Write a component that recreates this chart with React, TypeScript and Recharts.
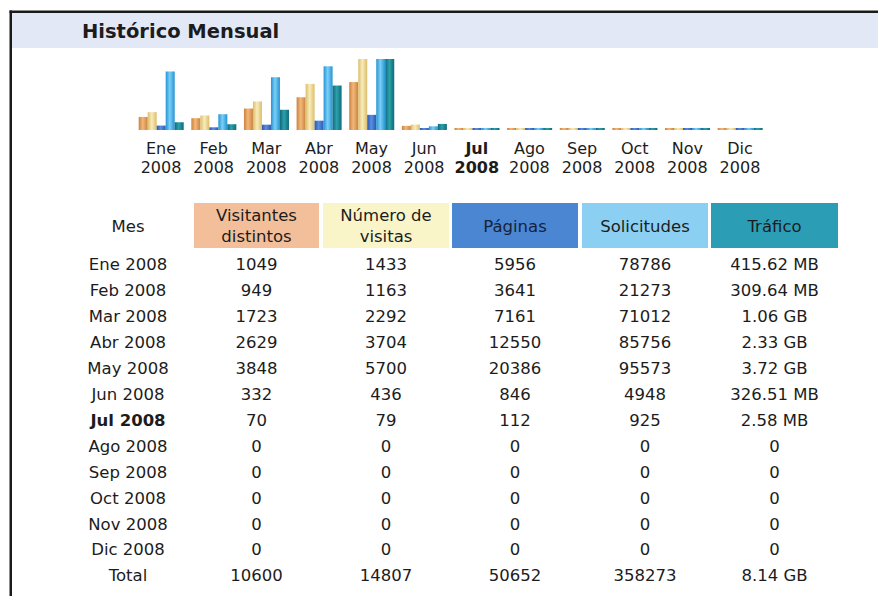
import React from 'react';
import { BarChart, Bar, XAxis, YAxis } from 'recharts';

const months = ['Ene', 'Feb', 'Mar', 'Abr', 'May', 'Jun', 'Jul', 'Ago', 'Sep', 'Oct', 'Nov', 'Dic'];
const year = '2008';
const currentMonth = 'Jul';

const visitors = [1049, 949, 1723, 2629, 3848, 332, 70, 0, 0, 0, 0, 0];
const visits = [1433, 1163, 2292, 3704, 5700, 436, 79, 0, 0, 0, 0, 0];
const pages = [5956, 3641, 7161, 12550, 20386, 846, 112, 0, 0, 0, 0, 0];
const hits = [78786, 21273, 71012, 85756, 95573, 4948, 925, 0, 0, 0, 0, 0];
// traffic in MB for the bars, and as shown in the table
const trafficMB = [415.62, 309.64, 1085.44, 2385.92, 3809.28, 326.51, 2.58, 0, 0, 0, 0, 0];
const trafficLabels = ['415.62 MB', '309.64 MB', '1.06 GB', '2.33 GB', '3.72 GB', '326.51 MB', '2.58 MB', '0', '0', '0', '0', '0'];
const totals = ['10600', '14807', '50652', '358273', '8.14 GB'];

const headers = [
  { lines: ['Visitantes', 'distintos'], fill: '#f3bf9b' },
  { lines: ['Número de', 'visitas'], fill: '#faf5c9' },
  { lines: ['Páginas'], fill: '#4b86d3' },
  { lines: ['Solicitudes'], fill: '#8bcff2' },
  { lines: ['Tráfico'], fill: '#2b9eb6' },
];

const FONT = 'Verdana, "DejaVu Sans", sans-serif';
const TEXT = '#1c1c1c';

const chartData = months.map((m, i) => ({
  month: m,
  visitors: visitors[i],
  visits: visits[i],
  pages: pages[i],
  hits: hits[i],
  traffic: trafficMB[i],
}));

const maxVisits = Math.max(...visits, ...visitors);
const maxHits = Math.max(...hits, ...pages);
const maxTraffic = Math.max(...trafficMB);

const barColors: Record<string, [string, string]> = {
  visitors: ['#cc8240', '#f2b878'],
  visits: ['#dcbd6c', '#f8ecba'],
  pages: ['#2a58b2', '#5a8ee0'],
  hits: ['#2493d4', '#7ccff5'],
  traffic: ['#116a78', '#2aa2ac'],
};

const MonthTick = (props: any) => {
  const { x, payload } = props;
  const bold = payload.value === currentMonth;
  return (
    <text
      x={x}
      textAnchor='middle'
      fontFamily={FONT}
      fontSize={16}
      fontWeight={bold ? 'bold' : 'normal'}
      fill={TEXT}
    >
      <tspan x={x} y={154}>{payload.value}</tspan>
      <tspan x={x} y={173}>{year}</tspan>
    </text>
  );
};

const colX = [128, 256.5, 386, 515, 645, 774.5];
const cellX = [194, 323, 452, 582, 711];
const cellW = [125, 126, 126, 126, 127];
const rowBase = 270;
const rowStep = 25.95;

const App: React.FC = () => {
  return (
    <div style={{ position: 'absolute', left: 0, top: 0, width: 878, height: 596, background: '#fff', overflow: 'hidden' }}>
      <svg width={878} height={596} style={{ position: 'absolute', left: 0, top: 0 }}>
        <rect x={12} y={13} width={866} height={35} fill='#e3e8f7' />
        <rect x={9.5} y={10.5} width={868.5} height={2.5} fill='#1a1a1a' />
        <rect x={9.5} y={10.5} width={2.5} height={586} fill='#1a1a1a' />
        <text x={82} y={38} fontFamily={FONT} fontSize={19.5} fontWeight='bold' fill={TEXT}>
          Histórico Mensual
        </text>

        <text x={colX[0]} y={232} textAnchor='middle' fontFamily={FONT} fontSize={16.5} fill={TEXT}>Mes</text>
        {headers.map((h, i) => (
          <g key={h.lines[0]}>
            <rect x={cellX[i]} y={203} width={cellW[i]} height={45} fill={h.fill} />
            {h.lines.map((line, j) => (
              <text
                key={line}
                x={colX[i + 1]}
                y={h.lines.length === 1 ? 232 : 221 + j * 20.5}
                textAnchor='middle'
                fontFamily={FONT}
                fontSize={16.5}
                fill={i === 2 ? '#15233a' : TEXT}
              >
                {line}
              </text>
            ))}
          </g>
        ))}

        {months.map((m, i) => {
          const y = rowBase + i * rowStep;
          const cells = [visitors[i], visits[i], pages[i], hits[i]].map(String).concat(trafficLabels[i]);
          return (
            <g key={m} fontFamily={FONT} fontSize={16.5} fill={TEXT}>
              <text x={colX[0]} y={y} textAnchor='middle' fontWeight={m === currentMonth ? 'bold' : 'normal'}>
                {`${m} ${year}`}
              </text>
              {cells.map((c, j) => (
                <text key={j} x={colX[j + 1]} y={y} textAnchor='middle'>{c}</text>
              ))}
            </g>
          );
        })}
        <g fontFamily={FONT} fontSize={16.5} fill={TEXT}>
          <text x={colX[0]} y={rowBase + 12 * rowStep} textAnchor='middle'>Total</text>
          {totals.map((t, j) => (
            <text key={j} x={colX[j + 1]} y={rowBase + 12 * rowStep} textAnchor='middle'>{t}</text>
          ))}
        </g>
      </svg>

      <div style={{ position: 'absolute', left: 0, top: 0 }}>
        <BarChart
          width={878}
          height={190}
          data={chartData}
          margin={{ top: 59, right: 111.7, bottom: 10, left: 134.7 }}
          barGap={0}
          barSize={9}
        >
          <defs>
            {Object.entries(barColors).map(([key, [dark, light]]) => (
              <linearGradient key={key} id={`grad-${key}`} x1='0' y1='0' x2='1' y2='0'>
                <stop offset='0%' stopColor={dark} />
                <stop offset='45%' stopColor={light} />
                <stop offset='100%' stopColor={dark} />
              </linearGradient>
            ))}
          </defs>
          <XAxis
            dataKey='month'
            interval={0}
            axisLine={false}
            tickLine={false}
            height={50}
            tick={<MonthTick />}
          />
          <YAxis yAxisId='v' hide width={0} domain={[0, maxVisits]} allowDataOverflow />
          <YAxis yAxisId='h' hide width={0} domain={[0, maxHits]} allowDataOverflow />
          <YAxis yAxisId='b' hide width={0} domain={[0, maxTraffic]} allowDataOverflow />
          <Bar dataKey='visitors' yAxisId='v' fill='url(#grad-visitors)' minPointSize={2} isAnimationActive={false} />
          <Bar dataKey='visits' yAxisId='v' fill='url(#grad-visits)' minPointSize={2} isAnimationActive={false} />
          <Bar dataKey='pages' yAxisId='h' fill='url(#grad-pages)' minPointSize={2} isAnimationActive={false} />
          <Bar dataKey='hits' yAxisId='h' fill='url(#grad-hits)' minPointSize={2} isAnimationActive={false} />
          <Bar dataKey='traffic' yAxisId='b' fill='url(#grad-traffic)' minPointSize={2} isAnimationActive={false} />
        </BarChart>
      </div>
    </div>
  );
};

export default App;
